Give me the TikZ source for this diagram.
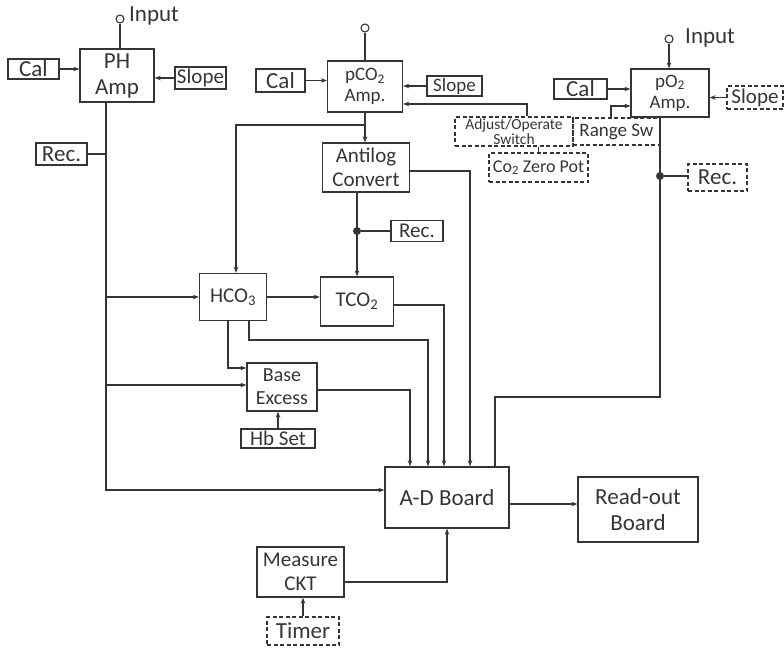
\documentclass[tikz,border=0pt]{standalone}
\usepackage{fontspec}
\setmainfont{Carlito}
\usetikzlibrary{arrows.meta}
\definecolor{ink}{HTML}{353535}
\begin{document}
\begin{tikzpicture}[x=1pt,y=-1pt,
  every node/.style={text=ink,font=\fontsize{21}{23.5}\selectfont,inner sep=0pt,align=center},
  blk/.style={draw=ink,line width=1.3pt},
  dbox/.style={draw=ink,line width=1.2pt,dash pattern=on 4pt off 2.5pt},
  wire/.style={draw=ink,line width=1.1pt},
  arr/.style={wire,-{Stealth[length=6pt,width=4.5pt]}},
  jdot/.style={circle,fill=ink,minimum size=8pt},
  term/.style={circle,draw=ink,line width=1.1pt,minimum size=8pt,fill=white},
  big/.style={font=\fontsize{23}{26}\selectfont},
  mid/.style={font=\fontsize{19}{21}\selectfont}]
\useasboundingbox (0,0) rectangle (784,648);

% ---------- PH section ----------
\node[blk,big,minimum width=74pt,minimum height=53pt] (ph) at (117,75.5) {PH\\Amp};
\node[term] (phin) at (120,19) {};
\node[big,anchor=west] (phinl) at (129,16) {Input};
\node[blk,big,minimum width=51pt,minimum height=20pt] (cal1) at (33.5,69) {Cal};
\node[blk,minimum width=51pt,minimum height=22pt] (slope1) at (200.5,78) {Slope};
\node[blk,big,minimum width=51pt,minimum height=22pt] (rec1) at (61.5,154) {Rec.};

% ---------- pCO2 section ----------
\node[blk,mid,minimum width=75pt,minimum height=51pt] (pco2) at (365,86.5) {pCO\textsubscript{2}\\Amp.};
\node[term] (pcoin) at (365,28) {};
\node[blk,big,minimum width=49pt,minimum height=23pt] (cal2) at (280.5,80.5) {Cal};
\node[blk,mid,minimum width=55pt,minimum height=20pt] (slope2) at (454.5,86) {Slope};
\node[blk,minimum width=87pt,minimum height=49pt] (antilog) at (366,167.5) {Antilog\\Convert};
\node[jdot] (d1) at (357,231) {};
\node[blk,minimum width=52pt,minimum height=21pt] (rec2) at (417,231) {Rec.};
\node[blk,minimum width=67pt,minimum height=47pt] (hco3) at (233,297) {HCO\textsubscript{3}};
\node[blk,minimum width=73pt,minimum height=49pt] (tco2) at (357,301.5) {TCO\textsubscript{2}};
\node[blk,font=\fontsize{20}{23}\selectfont,minimum width=70pt,minimum height=48pt] (be) at (282,387) {Base\\Excess};
\node[blk,minimum width=74pt,minimum height=19pt] (hb) at (278,438.5) {Hb Set};

% ---------- pO2 section ----------
\node[blk,mid,minimum width=78pt,minimum height=48pt] (po2) at (670,93) {pO\textsubscript{2}\\Amp.};
\node[term] (poin) at (669,39) {};
\node[big,anchor=west] (poinl) at (685,38) {Input};
\node[blk,big,minimum width=53pt,minimum height=20pt] (cal3) at (580.5,89) {Cal};
\node[dbox,minimum width=56pt,minimum height=23pt] (slope3) at (755,97.5) {Slope};
\node[dbox,font=\fontsize{15.5}{11.5}\selectfont,minimum width=118pt,minimum height=29pt] (adjsw) at (514,131.5) {Adjust/Operate\\Switch};
\node[dbox,mid,minimum width=87pt,minimum height=27pt] (range) at (616.5,131.5) {Range Sw};
\node[dbox,font=\fontsize{18}{21}\selectfont,minimum width=99pt,minimum height=29pt] (co2z) at (538.5,167.5) {Co\textsubscript{2} Zero Pot};
\node[jdot] (d2) at (660,176) {};
\node[dbox,big,minimum width=59pt,minimum height=27pt] (rec3) at (717.5,177.5) {Rec.};

% ---------- bottom ----------
\node[blk,big,minimum width=124pt,minimum height=61pt] (ad) at (447,497.5) {A-D Board};
\node[blk,big,minimum width=120pt,minimum height=65pt] (ro) at (638,509.5) {Read-out\\Board};
\node[blk,minimum width=87pt,minimum height=50pt] (ms) at (300.5,572) {Measure\\CKT};
\node[dbox,big,minimum width=72pt,minimum height=28pt] (timer) at (303,631) {Timer};

% ---------- corner coordinates ----------
\coordinate (pb) at (106,490);
\coordinate (bei) at (106,385);
\coordinate (adj) at (527,104);
\coordinate (br) at (365,125);
\coordinate (brl) at (236,125);
\coordinate (h1) at (249,340);
\coordinate (h2) at (428,340);
\coordinate (h3) at (228,368);
\coordinate (b1) at (410,390);
\coordinate (t1) at (444,305);
\coordinate (a1) at (470,171);
\coordinate (rs) at (611,106);
\coordinate (p1) at (660,397);
\coordinate (p2) at (495,397);
\coordinate (m1) at (447,582);
\coordinate (ry) at (544,504);

% ---------- PH connectors ----------
\draw[wire] (phin) -- (phin |- ph.north);
\draw[arr] (cal1.east) -- (cal1.east -| ph.west);
\draw[arr] (slope1.west) -- (slope1.west -| ph.east);
\draw[arr] (ph.south -| pb) -- (pb) -- (pb -| ad.west);
\draw[wire] (rec1.east) -- (rec1.east -| pb);
\draw[arr] (hco3.west -| pb) -- (hco3.west);
\draw[arr] (bei) -- (bei -| be.west);

% ---------- pCO2 connectors ----------
\draw[wire] (pcoin) -- (pco2.north);
\draw[arr] (cal2.east) -- (cal2.east -| pco2.west);
\draw[arr] (slope2.west) -- (slope2.west -| pco2.east);
\draw[arr] (adj |- adjsw.north) -- (adj) -- (adj -| pco2.east);
\draw[wire] (co2z.north) -- (co2z.north |- adjsw.south);
\draw[arr] (pco2.south) -- (pco2.south |- antilog.north);
\draw[arr] (br) -- (brl) -- (brl |- hco3.north);
\draw[arr] (d1 |- antilog.south) -- (tco2.north);
\draw[wire] (d1) -- (d1 -| rec2.west);
\draw[arr] (hco3.east) -- (hco3.east -| tco2.west);
\draw[arr] (h1 |- hco3.south) -- (h1) -- (h2) -- (h2 |- ad.north);
\draw[arr] (h3 |- hco3.south) -- (h3) -- (h3 -| be.west);
\draw[arr] (hb.north) -- (hb.north |- be.south);
\draw[arr] (b1 -| be.east) -- (b1) -- (b1 |- ad.north);
\draw[arr] (t1 -| tco2.east) -- (t1) -- (t1 |- ad.north);
\draw[arr] (a1 -| antilog.east) -- (a1) -- (a1 |- ad.north);

% ---------- pO2 connectors ----------
\draw[arr] (poin) -- (poin |- po2.north);
\draw[arr] (cal3.east) -- (cal3.east -| po2.west);
\draw[arr] (rs |- range.north) -- (rs) -- (rs -| po2.west);
\draw[arr] (slope3.west) -- (slope3.west -| po2.east);
\draw[wire] (p1 |- po2.south) -- (p1) -- (p2) -- (p2 |- ad.north);
\draw[wire] (d2) -- (d2 -| rec3.west);

% ---------- bottom connectors ----------
\draw[arr] (ry -| ad.east) -- (ry -| ro.west);
\draw[arr] (m1 -| ms.east) -- (m1) -- (ad.south);
\draw[arr] (timer.north) -- (timer.north |- ms.south);
\end{tikzpicture}
\end{document}
